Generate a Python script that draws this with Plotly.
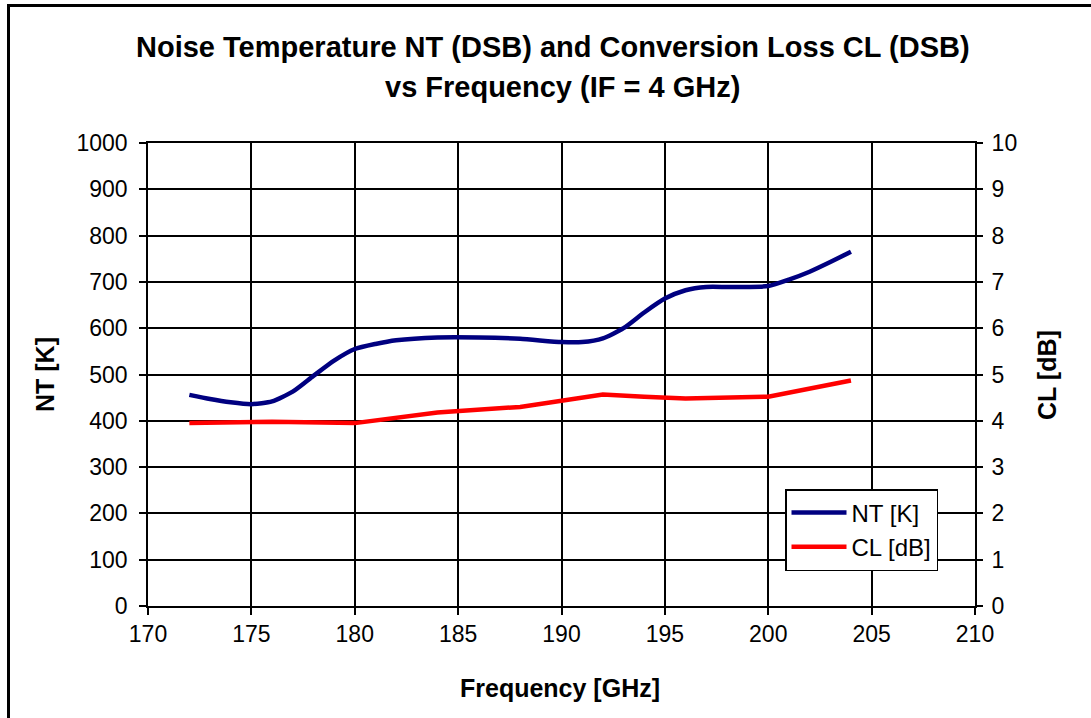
import plotly.graph_objects as go

freq_nt = [172, 173, 174, 175, 176, 177, 178, 179, 180, 181, 182, 184, 186, 188, 190, 191, 192, 193, 194, 195, 196, 197, 198, 199, 200, 201, 202, 203, 204]
nt_k = [456, 447, 440, 436, 442, 463, 497, 530, 555, 566, 574, 580, 580, 577, 570, 570, 578, 600, 634, 664, 682, 689, 689, 689, 691, 705, 722, 743, 765]

freq_cl = [172, 176, 180, 184, 188, 192, 194, 196, 200, 202, 204]
cl_db = [3.95, 3.98, 3.95, 4.18, 4.30, 4.57, 4.52, 4.48, 4.52, 4.70, 4.87]

x_ticks = [170, 175, 180, 185, 190, 195, 200, 205, 210]
y1_ticks = [0, 100, 200, 300, 400, 500, 600, 700, 800, 900, 1000]
y2_ticks = [0, 1, 2, 3, 4, 5, 6, 7, 8, 9, 10]

FONT = "Liberation Sans, Arial, sans-serif"
L, T, R, B = 148, 143, 975, 606
PW, PH = R - L, B - T


def px_x(p):
    return (p - L) / PW


def px_y(p):
    return (B - p) / PH


fig = go.Figure()
fig.add_trace(go.Scatter(x=freq_nt, y=nt_k, name="NT [K]", mode="lines",
                         line=dict(color="#000080", width=4.5, shape="spline", smoothing=0.6)))
fig.add_trace(go.Scatter(x=freq_cl, y=cl_db, name="CL [dB]", mode="lines", yaxis="y2",
                         line=dict(color="#FF0000", width=4.5)))

fig.update_layout(
    width=1091, height=718,
    margin=dict(l=L, r=1091 - R, t=T, b=718 - B),
    paper_bgcolor="white", plot_bgcolor="white",
    font=dict(family=FONT, size=23, color="black"),
    showlegend=True,
    legend=dict(x=px_x(785), y=px_y(489), xanchor="left", yanchor="top",
                bgcolor="white", bordercolor="black", borderwidth=1.5,
                font=dict(size=24, family=FONT), itemwidth=55),
    xaxis=dict(range=[170, 210], tickvals=x_ticks, showgrid=True, gridcolor="black", gridwidth=1.5,
               showline=True, linecolor="black", linewidth=1.5, mirror=True,
               ticks="outside", ticklen=7, tickwidth=1.5, tickcolor="black", zeroline=False),
    yaxis=dict(range=[0, 1000], tickvals=y1_ticks, showgrid=True, gridcolor="black", gridwidth=1.5,
               showline=True, linecolor="black", linewidth=1.5, mirror=True,
               ticks="outside", ticklen=7, tickwidth=1.5, tickcolor="black", zeroline=False,
               ticklabelstandoff=7),
    yaxis2=dict(range=[0, 10], tickvals=y2_ticks, overlaying="y", side="right", showgrid=False,
                ticks="outside", ticklen=7, tickwidth=1.5, tickcolor="black", zeroline=False,
                ticklabelstandoff=4),
)

fig.add_annotation(text="<b>Noise Temperature NT (DSB) and Conversion Loss CL (DSB)</b>",
                   xref="paper", yref="paper", x=px_x(553), y=px_y(47), xanchor="center", yanchor="middle",
                   showarrow=False, font=dict(size=29, family=FONT))
fig.add_annotation(text="<b>vs Frequency (IF = 4 GHz)</b>",
                   xref="paper", yref="paper", x=px_x(562), y=px_y(87), xanchor="center", yanchor="middle",
                   showarrow=False, font=dict(size=29, family=FONT))
fig.add_annotation(text="<b>Frequency [GHz]</b>", xref="paper", yref="paper", x=px_x(560), y=px_y(688),
                   xanchor="center", yanchor="middle", showarrow=False, font=dict(size=25, family=FONT))
fig.add_annotation(text="<b>NT [K]</b>", xref="paper", yref="paper", x=px_x(45), y=px_y(375),
                   xanchor="center", yanchor="middle", showarrow=False, textangle=-90,
                   font=dict(size=25, family=FONT))
fig.add_annotation(text="<b>CL [dB]</b>", xref="paper", yref="paper", x=px_x(1047), y=px_y(375),
                   xanchor="center", yanchor="middle", showarrow=False, textangle=-90,
                   font=dict(size=25, family=FONT))

# outer chart border (only left and top edges fall inside the picture)
fig.add_shape(type="rect", xref="paper", yref="paper",
              x0=px_x(8.5), x1=px_x(1110), y0=px_y(740), y1=px_y(5.5),
              line=dict(color="black", width=3), fillcolor="rgba(0,0,0,0)", layer="below")

fig.write_html("out.html", config={"displayModeBar": False},
               post_script="document.body.style.margin='0';")
